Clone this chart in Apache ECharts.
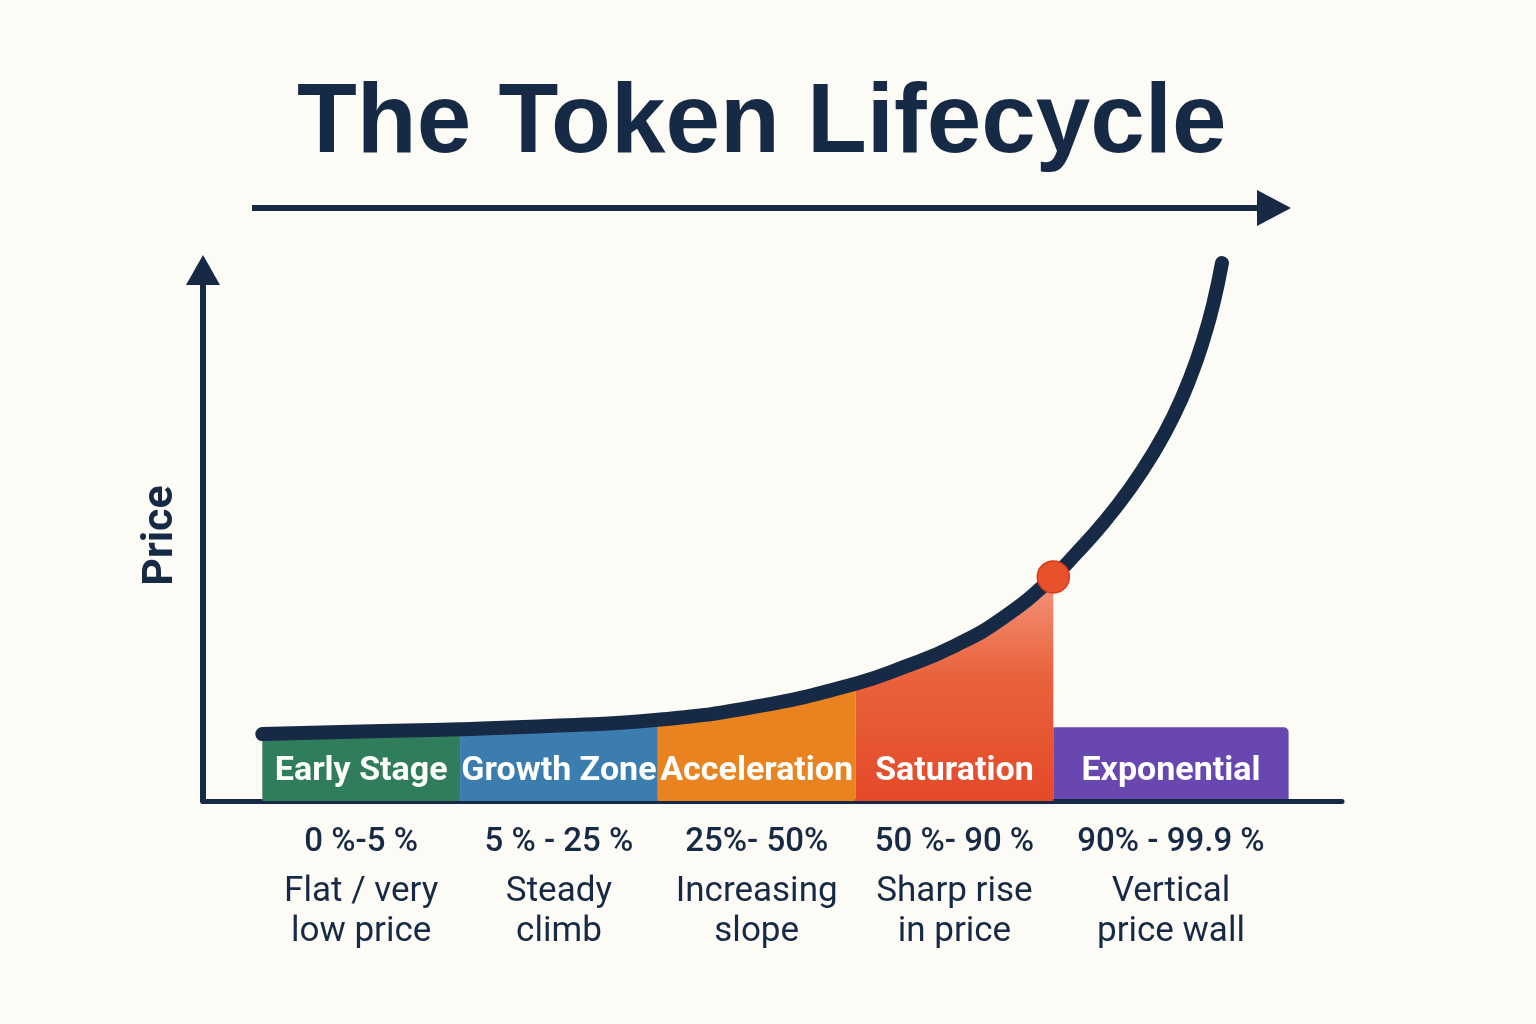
<!DOCTYPE html>
<html>
<head>
<meta charset="utf-8">
<title>The Token Lifecycle</title>
<script src="https://cdn.jsdelivr.net/npm/echarts@6/dist/echarts.min.js"></script>
<style>
  html, body { margin: 0; padding: 0; background: #fdfbf5; }
  #main { width: 1536px; height: 1024px; }
</style>
</head>
<body>
<div id="main"></div>
<script>
// stage data (x axis is in "stage units": one band per unit)
const stageNames = ['Early Stage', 'Growth Zone', 'Acceleration', 'Saturation', 'Exponential']
const stageStart = [0, 1, 2, 3, 4]
const stageEnd = [1, 2, 3, 4, 5.19]
const rangeLabels = ['0 %-5 %', '5 % - 25 %', '25%- 50%', '50 %- 90 %', '90% - 99.9 %']
const descLine1 = ['Flat / very', 'Steady', 'Increasing', 'Sharp rise', 'Vertical']
const descLine2 = ['low price', 'climb', 'slope', 'in price', 'price wall']
const labelPos = [0.5, 1.5, 2.5, 3.5, 4.595]

// price curve
const curveX = [0, 0.5, 1, 1.5, 2, 2.5, 3, 3.25, 3.5, 3.75, 4, 4.12, 4.254, 4.389, 4.507, 4.608, 4.693, 4.76, 4.811, 4.853]
const curveY = [12.6, 13.1, 13.5, 14.2, 15.3, 17.8, 22.1, 25.3, 29.2, 34.6, 42.2, 46.8, 52.4, 58.9, 65.6, 72.5, 79.8, 87.0, 93.9, 101.3]

// marked point + flat top of the last band
const markedPoint = [4, 42.2]
const lastBandTop = 13.9
const dividers = [2, 3, 4]
const dividerTop = 102.8

const navy = '#172a45'
const stageColors = ['#2f7d5a', '#3c7db0', '#e8831f', '#e54c27', '#6848b0']

let myChart = echarts.init(document.getElementById('main'))

const curveData = curveX.map((x, i) => [x, curveY[i]])

// area series for the first four bands (filled up to the curve)
const bandAreas = [0, 1, 2, 3].map(i => {
    let fill = stageColors[i]
    if (i === 3) {
        fill = new echarts.graphic.LinearGradient(0, 0, 0, 1, [
            { offset: 0, color: '#f3957c' },
            { offset: 0.45, color: '#e9623b' },
            { offset: 1, color: '#e4492a' }
        ])
    }
    return {
        type: 'line',
        name: stageNames[i],
        data: curveData.filter(p => p[0] >= stageStart[i] && p[0] <= stageEnd[i]),
        smooth: 0.5,
        symbol: 'none',
        lineStyle: { width: 0 },
        areaStyle: { color: fill, opacity: 1 },
        z: 1,
        silent: true
    }
})

myChart.setOption({
    backgroundColor: '#fdfbf5',
    animation: false,
    title: {
        text: 'The Token Lifecycle',
        left: 292,
        top: 71,
        textStyle: {
            fontFamily: 'Liberation Sans',
            fontWeight: 'bold',
            fontSize: 98,
            color: navy
        }
    },
    grid: { left: 203, right: 194, top: 270, bottom: 223 },
    xAxis: {
        type: 'value',
        min: -0.3,
        max: 5.46,
        splitLine: { show: false },
        axisTick: { show: false },
        axisLine: { lineStyle: { color: navy, width: 5 } },
        axisLabel: {
            customValues: labelPos,
            margin: 13,
            formatter: function (v) {
                let i = labelPos.indexOf(v)
                if (i < 0) return ''
                return '{p|' + rangeLabels[i] + '}\n{d|' + descLine1[i] + '}\n{d|' + descLine2[i] + '}'
            },
            rich: {
                p: { fontFamily: 'Roboto', fontSize: 33, lineHeight: 58, color: navy, fontWeight: 500 },
                d: { fontFamily: 'Roboto', fontSize: 35, lineHeight: 40, color: navy }
            }
        }
    },
    yAxis: {
        type: 'value',
        min: 0,
        max: 100,
        name: 'Price',
        nameLocation: 'middle',
        nameGap: 20,
        nameRotate: 90,
        nameTextStyle: { fontFamily: 'Roboto', fontWeight: 'bold', fontSize: 43, color: navy },
        splitLine: { show: false },
        axisTick: { show: false },
        axisLabel: { show: false },
        axisLine: {
            onZero: false,
            symbol: ['none', 'triangle'],
            symbolSize: [34, 30],
            lineStyle: { color: navy, width: 6 }
        }
    },
    graphic: [
        {
            type: 'line',
            shape: { x1: 252, y1: 208, x2: 1262, y2: 208 },
            style: { stroke: navy, lineWidth: 6 }
        },
        {
            type: 'polygon',
            shape: { points: [[1257, 190], [1291, 208], [1257, 226]] },
            style: { fill: navy }
        }
    ],
    series: [
        ...bandAreas,
        {
            // dashed stage dividers
            type: 'line',
            data: [],
            z: 2,
            clip: false,
            markLine: {
                silent: true,
                symbol: 'none',
                label: { show: false },
                lineStyle: { type: [8, 7], color: '#b9b9b9', width: 1.5 },
                data: dividers.map(d => [{ coord: [d, 0] }, { coord: [d, dividerTop] }])
            }
        },
        {
            // last band box + stage names
            type: 'custom',
            z: 3,
            clip: false,
            silent: true,
            data: stageNames.map((n, i) => [stageStart[i], stageEnd[i], i === 4 ? lastBandTop : 0, labelPos[i]]),
            renderItem: function (params, api) {
                let i = params.dataIndex
                let children = []
                let top = api.value(2)
                if (top > 0) {
                    let p0 = api.coord([api.value(0), top])
                    let p1 = api.coord([api.value(1), 0])
                    children.push({
                        type: 'rect',
                        shape: { x: p0[0], y: p0[1], width: p1[0] - p0[0], height: p1[1] - p0[1] - 2, r: [0, 5, 0, 0] },
                        style: { fill: stageColors[i] }
                    })
                }
                let c = api.coord([api.value(3), 5.5])
                children.push({
                    type: 'text',
                    style: {
                        text: stageNames[i],
                        x: c[0],
                        y: c[1],
                        align: 'center',
                        verticalAlign: 'middle',
                        fill: '#ffffff',
                        fontFamily: 'Roboto',
                        fontWeight: 'bold',
                        fontSize: 34
                    }
                })
                return { type: 'group', children: children }
            }
        },
        {
            // price curve
            type: 'line',
            name: 'Price',
            data: curveData,
            smooth: 0.5,
            symbol: 'none',
            clip: false,
            z: 5,
            lineStyle: { color: navy, width: 14, cap: 'round' }
        },
        {
            type: 'scatter',
            data: [markedPoint],
            symbolSize: 32,
            z: 6,
            itemStyle: { color: '#e8522a', borderColor: '#d63a1c', borderWidth: 1.5, opacity: 1 }
        }
    ]
})
</script>
</body>
</html>
